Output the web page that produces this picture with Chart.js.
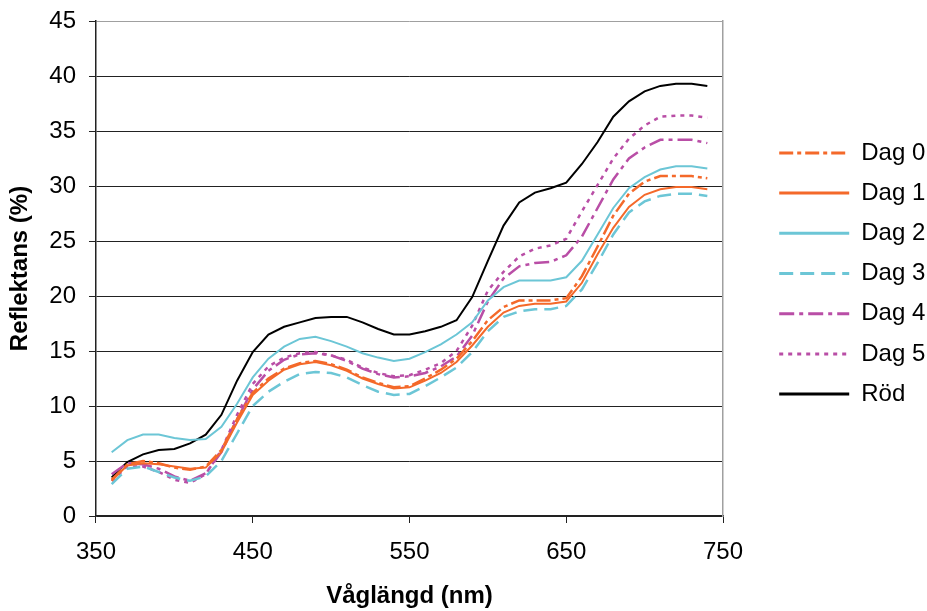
<!DOCTYPE html>
<html>
<head>
<meta charset="utf-8">
<script src="https://cdn.jsdelivr.net/npm/chart.js@4"></script>
<style>
  html, body { margin: 0; padding: 0; background: #fff; }
</style>
</head>
<body>
<canvas id="line-chart" width="927" height="611"></canvas>
<script>
// Våglängd (nm)
const wavelengths = [360, 370, 380, 390, 400, 410, 420, 430, 440, 450, 460, 470, 480, 490, 500,
  510, 520, 530, 540, 550, 560, 570, 580, 590, 600, 610, 620, 630, 640, 650, 660, 670, 680,
  690, 700, 710, 720, 730, 740];

// Reflektans (%)
const dag0 = [3.3, 4.7, 5.0, 4.8, 4.4, 4.2, 4.5, 6.0, 8.8, 11.2, 12.5, 13.4, 13.9, 14.1, 13.8,
  13.3, 12.6, 12.1, 11.7, 11.8, 12.5, 13.3, 14.3, 15.9, 17.8, 19.0, 19.6, 19.6, 19.6, 19.8,
  21.8, 24.5, 27.3, 29.3, 30.4, 30.9, 30.9, 30.9, 30.7];
const dag1 = [3.2, 4.6, 4.8, 4.7, 4.5, 4.3, 4.4, 5.8, 8.5, 11.0, 12.3, 13.3, 13.8, 14.0, 13.7,
  13.2, 12.5, 12.0, 11.6, 11.7, 12.3, 13.0, 14.0, 15.5, 17.2, 18.5, 19.1, 19.3, 19.3, 19.5,
  21.2, 23.8, 26.2, 28.1, 29.2, 29.7, 29.9, 29.9, 29.7];
const dag2 = [5.8, 6.9, 7.4, 7.4, 7.1, 6.9, 7.0, 8.1, 10.2, 12.6, 14.3, 15.4, 16.1, 16.3, 15.9,
  15.4, 14.8, 14.4, 14.1, 14.3, 14.9, 15.6, 16.5, 17.6, 19.6, 20.8, 21.4, 21.4, 21.4, 21.7,
  23.2, 25.6, 28.0, 29.8, 30.8, 31.5, 31.8, 31.8, 31.6];
const dag3 = [2.9, 4.3, 4.5, 4.0, 3.5, 3.2, 3.6, 5.0, 7.5, 10.0, 11.3, 12.2, 12.9, 13.1, 13.0,
  12.6, 11.9, 11.3, 11.0, 11.1, 11.8, 12.6, 13.5, 14.9, 16.8, 18.1, 18.6, 18.8, 18.8, 19.1,
  20.6, 23.0, 25.6, 27.6, 28.6, 29.1, 29.3, 29.3, 29.1];
const dag4 = [3.8, 4.8, 4.7, 4.3, 3.6, 3.2, 3.9, 5.8, 8.8, 11.5, 13.2, 14.2, 14.7, 14.8, 14.6,
  14.1, 13.4, 12.9, 12.6, 12.7, 13.0, 13.6, 14.5, 16.4, 19.5, 21.6, 22.7, 23.0, 23.1, 23.7,
  25.4, 28.0, 30.6, 32.5, 33.5, 34.2, 34.2, 34.2, 33.9];
const dag5 = [3.2, 4.5, 4.5, 4.0, 3.3, 3.0, 3.8, 6.0, 9.2, 12.0, 13.6, 14.4, 14.8, 14.9, 14.6,
  14.2, 13.5, 13.0, 12.7, 12.8, 13.3, 13.9, 15.0, 17.3, 20.5, 22.2, 23.6, 24.3, 24.6, 25.2,
  27.7, 30.1, 32.5, 34.3, 35.5, 36.3, 36.4, 36.4, 36.2];
const rod = [3.5, 4.9, 5.6, 6.0, 6.1, 6.6, 7.4, 9.2, 12.3, 14.9, 16.5, 17.2, 17.6, 18.0, 18.1,
  18.1, 17.6, 17.0, 16.5, 16.5, 16.8, 17.2, 17.8, 19.9, 23.2, 26.4, 28.5, 29.4, 29.8, 30.3,
  32.0, 34.0, 36.3, 37.7, 38.6, 39.1, 39.3, 39.3, 39.1];

const xTicks = [350, 450, 550, 650, 750];

const orange = "#f4692a";
const cyan = "#6cc6d6";
const magenta = "#b94ea6";

function pts(values) {
  return wavelengths.map((w, i) => ({ x: w, y: values[i] }));
}

function line(label, values, color, dash, width) {
  return {
    label: label,
    data: pts(values),
    borderColor: color,
    backgroundColor: "transparent",
    borderWidth: width,
    borderDash: dash,
    pointRadius: 0,
    tension: 0,
    fill: false,
  };
}

Chart.defaults.font.family = "'Liberation Sans', Arial, sans-serif";
Chart.defaults.font.size = 24;
Chart.defaults.color = "#000";

new Chart(document.getElementById("line-chart"), {
  type: "line",
  data: {
    datasets: [
      line("Dag 0", dag0, orange, [14, 4, 4, 4], 2.5),
      line("Dag 1", dag1, orange, [], 2),
      line("Dag 2", dag2, cyan, [], 2),
      line("Dag 3", dag3, cyan, [14, 7], 2.5),
      line("Dag 4", dag4, magenta, [15, 5, 4, 5], 2.5),
      line("Dag 5", dag5, magenta, [4, 5], 2.5),
      line("Röd", rod, "#000", [], 2),
    ],
  },
  options: {
    responsive: false,
    animation: false,
    layout: { padding: { top: 21, right: 0, bottom: 0, left: 0 } },
    plugins: {
      tooltip: { enabled: false },
      legend: {
        position: "right",
        fullSize: false,
        maxWidth: 164,
        title: { display: true, text: "", padding: { top: 9, bottom: 0 }, font: { size: 1, lineHeight: 1 } },
        labels: {
          usePointStyle: true,
          pointStyle: "line",
          pointStyleWidth: 70,
          padding: 16.2,
          color: "#000",
          font: { size: 24 },
          generateLabels: (chart) => {
            const items = Chart.defaults.plugins.legend.labels.generateLabels(chart);
            items.forEach((it, i) => {
              const ds = chart.data.datasets[i];
              it.lineDash = ds.borderDash;
              it.strokeStyle = ds.borderColor;
              it.fillStyle = "transparent";
              it.lineWidth = 3;
            });
            return items;
          },
        },
      },
    },
    scales: {
      x: {
        type: "linear",
        min: 350,
        max: 750,
        afterBuildTicks: (s) => { s.ticks = xTicks.map((v) => ({ value: v })); },
        grid: { drawOnChartArea: false, drawTicks: true, tickLength: 7, color: "#222" },
        border: { display: true, color: "#222", width: 1.5 },
        ticks: { padding: 15, color: "#000", font: { size: 24 } },
        title: {
          display: true,
          text: "Våglängd (nm)",
          color: "#000",
          font: { size: 24, weight: "bold" },
          padding: { top: 0.4, bottom: 0 },
        },
      },
      y: {
        min: 0,
        max: 45,
        afterFit: (s) => { s.paddingTop = 0; s.paddingBottom = 0; },
        ticks: { stepSize: 5, padding: 13, color: "#000", font: { size: 24 } },
        grid: {
          tickLength: 7,
          tickColor: "#222",
          color: (c) => (c.tick && c.tick.value === 45 ? "#a0a0a0" : "#222"),
        },
        border: { display: true, color: "#222", width: 1.5 },
        title: {
          display: true,
          text: "Reflektans (%)",
          color: "#000",
          font: { size: 24, weight: "bold" },
          padding: { top: 5.6, bottom: 1.9 },
        },
      },
      y2: {
        position: "right",
        display: true,
        grid: { display: false, drawTicks: false },
        ticks: { display: false },
        border: { display: true, color: "#a0a0a0", width: 1.5 },
        afterFit: (s) => { s.width = 40; },
      },
    },
  },
});
</script>
</body>
</html>
